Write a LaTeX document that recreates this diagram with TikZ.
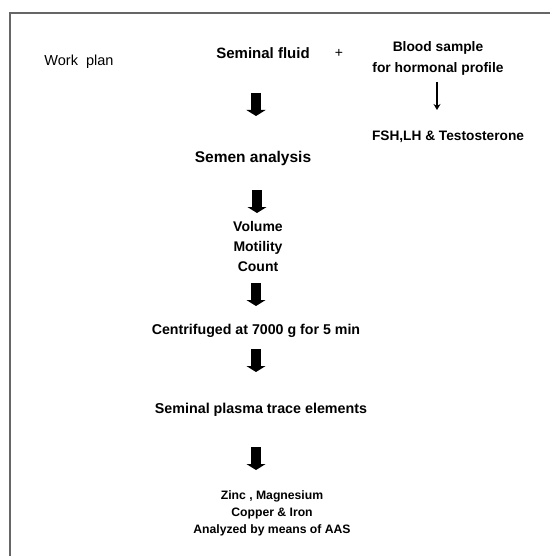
\documentclass[tikz,border=0pt]{standalone}
\usepackage{fontspec}
\setmainfont{Liberation Sans}
\usetikzlibrary{arrows.meta}

\begin{document}
\begin{tikzpicture}[x=1pt,y=-1pt,
    txt/.style={inner sep=0pt,anchor=base,align=center},
    blockarrow/.style={line width=10pt,-{Triangle[length=6pt,width=19pt]}},
    thinarrow/.style={line width=1.8pt,-{Stealth[length=6pt,width=7pt]}}]
      \useasboundingbox (0,0) rectangle (550,556);
      \draw[black!60,line width=1.3pt] (10,556) -- (10,13) -- (550,13);

      \node[txt,font=\fontsize{14.5}{18}\selectfont] (work) at (79,66) {Work~ plan};
      \node[txt,font=\bfseries\fontsize{15}{20}\selectfont] (fluid) at (263,59) {Seminal fluid};
      \node[txt,font=\fontsize{14}{18}\selectfont] (plus) at (339,58) {+};
      \node[txt,font=\bfseries\fontsize{13.8}{21}\selectfont] (blood) at (438,73) {Blood sample\\for hormonal profile};
      \node[txt,font=\bfseries\fontsize{13.7}{18}\selectfont] (hormones) at (448,141) {FSH,LH \& Testosterone};

      \node[txt,font=\bfseries\fontsize{15.5}{20}\selectfont] (semen) at (253,162) {Semen analysis};
      \node[txt,font=\bfseries\fontsize{14}{20}\selectfont] (params) at (258,271) {Volume\\Motility\\Count};
      \node[txt,font=\bfseries\fontsize{14.2}{20}\selectfont] (centri) at (256,334) {Centrifuged at 7000 g for 5 min};
      \node[txt,font=\bfseries\fontsize{14.3}{20}\selectfont] (plasma) at (261,413) {Seminal plasma trace elements};
      \node[txt,font=\bfseries\fontsize{12.2}{17}\selectfont] (elements) at (272,533) {Zinc , Magnesium\\Copper \& Iron\\Analyzed by means of AAS};

      % arrow ends
      \coordinate (a1s) at (256,93);  \coordinate (a1e) at (256,116);
      \coordinate (a2s) at (257,190); \coordinate (a2e) at (257,213);
      \coordinate (a3s) at (256,283); \coordinate (a3e) at (256,306);
      \coordinate (a4s) at (256,349); \coordinate (a4e) at (256,372);
      \coordinate (a5s) at (256,447); \coordinate (a5e) at (256,470);
      \coordinate (b1s) at (437,82);  \coordinate (b1e) at (437,110);

      \draw[blockarrow] (a1s) -- (a1e);
      \draw[blockarrow] (a2s) -- (a2e);
      \draw[blockarrow] (a3s) -- (a3e);
      \draw[blockarrow] (a4s) -- (a4e);
      \draw[blockarrow] (a5s) -- (a5e);
      \draw[thinarrow] (b1s) -- (b1e);
    \end{tikzpicture}
\end{document}
